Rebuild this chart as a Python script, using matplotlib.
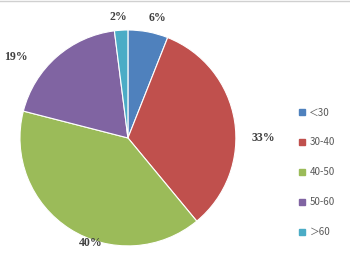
import numpy as np
import matplotlib.pyplot as plt
import matplotlib.patches as mpatches
import matplotlib.lines as mlines

# Data
categories = ['＜30', '30-40', '40-50', '50-60', '＞60']
shares = [6, 33, 40, 19, 2]
colors = ['#4F81BD', '#C0504D', '#9BBB59', '#8064A2', '#4BACC6']

# label placement (radius factor, angle nudge in degrees) per slice
label_r = [1.14, 1.25, 1.03, 1.28, 1.12]
label_da = [-3, -9, 13, 13, 1]

fig = plt.figure(figsize=(3.5, 2.63), dpi=100)
ax = fig.add_axes([0.057, 0.065, 0.617, 0.821])

wedges, _ = ax.pie(shares, colors=colors, startangle=90, counterclock=False,
                   wedgeprops=dict(edgecolor='white', linewidth=0.8))
ax.set_xlim(-1, 1)
ax.set_ylim(-1, 1)
ax.set_aspect('equal')

for w, v, r, da in zip(wedges, shares, label_r, label_da):
    ang = np.radians((w.theta1 + w.theta2) / 2 + da)
    ax.text(r * np.cos(ang), r * np.sin(ang), f'{v}%', ha='center', va='center',
            fontsize=8.5, fontweight='bold', family='Liberation Serif',
            color='#404040', clip_on=False)

# Legend
handles = [mpatches.Patch(color=c, label=l) for c, l in zip(colors, categories)]
leg = fig.legend(handles=handles, loc='center left', bbox_to_anchor=(0.83, 0.345),
                 frameon=False, handlelength=0.55, handleheight=0.55,
                 handletextpad=0.5, labelspacing=2.05,
                 prop={'family': ['Noto Sans CJK SC', 'DejaVu Sans'], 'size': 7})
for t in leg.get_texts():
    t.set_color('#595959')

# thin gray line along the top edge
fig.lines.append(mlines.Line2D([0, 1], [0.998, 0.998], transform=fig.transFigure,
                               color='#D0D0D0', linewidth=1))

plt.savefig('out.png', dpi=100)
